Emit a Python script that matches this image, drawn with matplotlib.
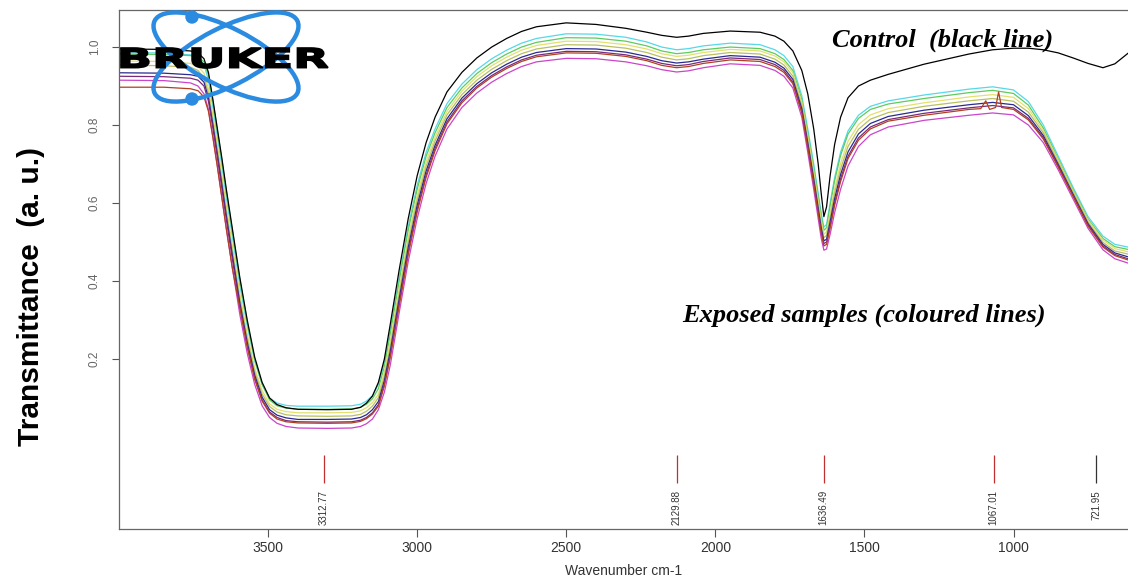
import matplotlib
matplotlib.use("Agg")
import matplotlib.pyplot as plt
from matplotlib.patches import Ellipse, Circle, PathPatch
from matplotlib.textpath import TextPath
from matplotlib.font_manager import FontProperties
from matplotlib.transforms import Affine2D

# wavenumber grid (cm-1) shared by the spectra
wn = [4000, 3850, 3760, 3735, 3715, 3700, 3685, 3670, 3655, 3640,
      3620, 3595, 3570, 3545, 3520, 3495, 3470, 3440, 3400, 3300,
      3220, 3190, 3170, 3150, 3130, 3110, 3090, 3060, 3030, 3000,
      2970, 2940, 2900, 2850, 2800, 2750, 2700, 2650, 2600, 2500,
      2400, 2300, 2230, 2180, 2130, 2090, 2040, 1950, 1850, 1800,
      1770, 1740, 1710, 1690, 1670, 1655, 1645, 1636, 1627, 1615,
      1600, 1580, 1555, 1520, 1480, 1420, 1300, 1150, 1070, 1000,
      950, 900, 850, 800, 750, 700, 660, 616]

control = [.995, .994, .990, .985, .970, .935, .865, .790, .715, .635,
           .535, .410, .300, .205, .140, .100, .083, .075, .071, .070,
           .071, .076, .087, .105, .140, .200, .290, .430, .560, .670,
           .755, .820, .885, .935, .972, 1.000, 1.022, 1.040, 1.052, 1.062,
           1.058, 1.048, 1.038, 1.030, 1.025, 1.028, 1.035, 1.041, 1.038, 1.028,
           1.015, .990, .940, .880, .790, .700, .625, .565, .590, .670,
           .750, .820, .870, .900, .915, .930, .956, .982, .993, .997,
           .997, .993, .985, .972, .958, .947, .957, .984]

cyan = [.985, .985, .980, .972, .955, .915, .845, .770, .695, .615,
        .515, .390, .285, .195, .135, .100, .087, .081, .079, .079,
        .080, .084, .092, .106, .135, .190, .275, .410, .540, .645,
        .730, .790, .855, .905, .942, .970, .992, 1.010, 1.022, 1.034,
        1.033, 1.025, 1.013, 1.000, .993, .996, 1.003, 1.010, 1.006, .993,
        .978, .950, .875, .790, .700, .625, .575, .538, .545, .600,
        .665, .730, .785, .825, .848, .862, .877, .892, .898, .890,
        .860, .800, .720, .640, .565, .515, .494, .487]

green = [.982, .981, .978, .975, .962, .928, .860, .785, .710, .630,
         .530, .405, .295, .200, .135, .095, .080, .074, .071, .071,
         .072, .076, .084, .098, .124, .180, .265, .400, .530, .635,
         .720, .780, .845, .895, .932, .960, .982, 1.000, 1.012, 1.024,
         1.023, 1.015, 1.003, .990, .983, .986, .993, 1.000, .996, .983,
         .968, .940, .865, .780, .690, .617, .567, .530, .537, .592,
         .657, .722, .777, .817, .840, .854, .868, .883, .889, .881,
         .851, .792, .713, .634, .559, .509, .488, .481]

yellow = [.964, .963, .958, .950, .933, .893, .823, .748, .671, .591,
          .491, .368, .264, .177, .119, .085, .071, .065, .062, .062,
          .063, .067, .075, .088, .110, .168, .248, .383, .513, .620,
          .706, .769, .835, .887, .924, .952, .974, .992, 1.004, 1.015,
          1.014, 1.006, .995, .983, .976, .979, .986, .994, .990, .977,
          .962, .934, .858, .772, .680, .606, .556, .520, .526, .576,
          .638, .701, .758, .801, .826, .842, .857, .872, .878, .871,
          .842, .786, .710, .631, .556, .505, .483, .475]

khaki = [.954, .952, .948, .940, .921, .881, .811, .736, .659, .579,
         .479, .356, .254, .168, .110, .078, .064, .057, .054, .053,
         .054, .058, .066, .079, .101, .156, .234, .370, .500, .607,
         .694, .759, .826, .878, .915, .943, .965, .983, .995, 1.006,
         1.005, .997, .986, .974, .967, .970, .978, .986, .982, .969,
         .954, .925, .850, .763, .671, .596, .546, .511, .517, .564,
         .625, .687, .745, .789, .815, .832, .848, .862, .868, .861,
         .833, .780, .704, .627, .551, .499, .477, .469]

navy = [.934, .933, .929, .925, .910, .870, .800, .725, .647, .567,
        .467, .345, .243, .159, .102, .070, .056, .049, .045, .045,
        .046, .050, .057, .070, .091, .145, .221, .356, .486, .594,
        .682, .748, .816, .869, .906, .934, .956, .974, .986, .996,
        .995, .987, .976, .965, .959, .962, .969, .978, .974, .961,
        .946, .917, .842, .754, .661, .586, .536, .503, .507, .552,
        .611, .673, .731, .777, .804, .822, .838, .852, .858, .852,
        .824, .773, .699, .622, .547, .494, .472, .462]

purple = [.925, .924, .920, .915, .900, .861, .791, .716, .637, .557,
          .457, .336, .235, .152, .095, .064, .050, .042, .039, .038,
          .039, .043, .050, .062, .083, .136, .210, .345, .475, .584,
          .672, .740, .808, .862, .899, .927, .949, .967, .979, .989,
          .988, .980, .969, .958, .952, .955, .963, .972, .968, .955,
          .940, .910, .835, .747, .653, .578, .528, .496, .500, .542,
          .600, .662, .720, .767, .795, .814, .830, .844, .850, .844,
          .817, .768, .695, .619, .544, .490, .468, .457]

magenta = [.915, .914, .908, .900, .880, .840, .770, .695, .615, .535,
           .435, .315, .215, .135, .080, .050, .035, .027, .023, .022,
           .023, .027, .034, .046, .070, .115, .185, .320, .450, .560,
           .650, .720, .790, .845, .882, .910, .932, .950, .962, .971,
           .970, .962, .952, .942, .936, .939, .947, .957, .953, .940,
           .925, .895, .820, .730, .635, .560, .510, .479, .482, .520,
           .575, .635, .695, .745, .775, .795, .812, .825, .831, .826,
           .800, .755, .685, .610, .535, .480, .457, .446]

# the red/brown sample has two small spikes near 1067 so it keeps its own grid
red_wn = [4000, 3850, 3760, 3735, 3715, 3700, 3685, 3670, 3655, 3640,
          3620, 3595, 3570, 3545, 3520, 3495, 3470, 3440, 3400, 3300,
          3220, 3190, 3170, 3150, 3130, 3110, 3090, 3060, 3030, 3000,
          2970, 2940, 2900, 2850, 2800, 2750, 2700, 2650, 2600, 2500,
          2400, 2300, 2230, 2180, 2130, 2090, 2040, 1950, 1850, 1800,
          1770, 1740, 1710, 1690, 1670, 1655, 1645, 1636, 1627, 1615,
          1600, 1580, 1555, 1520, 1480, 1420, 1300, 1150, 1110, 1093,
          1080, 1060, 1050, 1040, 1000, 950, 900, 850, 800, 750,
          700, 660, 616]
red = [.897, .897, .893, .888, .872, .835, .767, .692, .613, .533,
       .433, .331, .230, .148, .092, .061, .046, .039, .036, .035,
       .036, .040, .047, .059, .079, .131, .205, .338, .468, .577,
       .666, .734, .803, .857, .895, .923, .945, .963, .975, .985,
       .984, .976, .965, .953, .947, .950, .958, .967, .963, .950,
       .935, .906, .831, .743, .649, .574, .524, .490, .494, .536,
       .594, .655, .714, .761, .790, .810, .825, .840, .842, .862,
       .840, .845, .885, .845, .840, .813, .764, .692, .617, .541,
       .487, .465, .454]

peaks = [3312.77, 2129.88, 1636.49, 1067.01, 721.95]
peak_colors = ['#c03030', '#c03030', '#c03030', '#c03030', '#333333']

samples = [(cyan, '#55d8e8'), (green, '#5ccc5c'), (yellow, '#e4e070'), (khaki, '#b8c060'),
           (navy, '#2a2a90'), (purple, '#7a2a7a'), (magenta, '#cc44cc')]

W, H = 1128, 580
fig = plt.figure(figsize=(W / 100, H / 100), dpi=100)
ax = fig.add_axes([119 / W, 51 / H, 1009 / W, 519 / H])

for vals, col in samples:
    ax.plot(wn, vals, color=col, lw=0.9)
ax.plot(red_wn, red, color='#b04020', lw=0.9)
ax.plot(wn, control, color='black', lw=0.9)

# peak picks
ax.vlines(peaks, -0.118, -0.046, colors=peak_colors, lw=0.9)
for p in peaks:
    ax.text(p, -0.136, f'{p:.2f}', rotation=90, ha='center', va='top',
            fontsize=7, color='#333333', family='Liberation Sans')

ax.set_xlim(4000, 616)
ax.set_ylim(-0.236, 1.095)
ax.set_xticks([3500, 3000, 2500, 2000, 1500, 1000])
ax.set_yticks([0.2, 0.4, 0.6, 0.8, 1.0])
ax.set_yticklabels(['0.2', '0.4', '0.6', '0.8', '1.0'], rotation=90, va='center')
ax.tick_params(axis='x', length=6, width=0.8, color='#555555', labelsize=10,
               labelcolor='#333333', pad=3)
ax.tick_params(axis='y', length=5, width=0.8, color='#555555', labelsize=8.5,
               labelcolor='#666666', pad=8)
for lab in ax.get_xticklabels() + ax.get_yticklabels():
    lab.set_family('Liberation Sans')
for s in ['left', 'top', 'bottom']:
    ax.spines[s].set_color('#666666')
    ax.spines[s].set_linewidth(0.9)
ax.spines['right'].set_visible(False)
ax.set_xlabel('Wavenumber cm-1', fontsize=10, color='#333333', family='Liberation Sans', labelpad=6)

fig.text(31 / W, 1 - 297 / H, 'Transmittance  (a. u.)', rotation=90, ha='center', va='center',
         fontsize=21.5, fontweight='bold', family='Liberation Sans')

# overlay in pixel coordinates for the logo and notes
ov = fig.add_axes([0, 0, 1, 1])
ov.set_xlim(0, W)
ov.set_ylim(H, 0)
ov.axis('off')
ov.patch.set_alpha(0)

blue = '#2a8be0'
for ang in (27, -27):
    ov.add_patch(Ellipse((226, 57), 160, 58, angle=ang, fill=False, ec=blue, lw=3.2))
ov.add_patch(Circle((192, 17), 6, color=blue))
ov.add_patch(Circle((192, 99), 6, color=blue))

tp = TextPath((0, 0), 'BRUKER', size=20, prop=FontProperties(family='DejaVu Sans', weight='bold'))
bb = tp.get_extents()
tr = Affine2D().translate(-bb.x0, -bb.y0).scale(207 / bb.width, -20 / bb.height).translate(121, 68)
ov.add_patch(PathPatch(tr.transform_path(tp), fc='black', ec='black', lw=1.2))

ov.text(832, 47, 'Control  (black line)', fontsize=19, fontweight='bold', style='italic',
        family='Liberation Serif', va='baseline', ha='left')
ov.text(682, 322, 'Exposed samples (coloured lines)', fontsize=19, fontweight='bold',
        style='italic', family='Liberation Serif', va='baseline', ha='left')

fig.savefig('out.png', dpi=100)
